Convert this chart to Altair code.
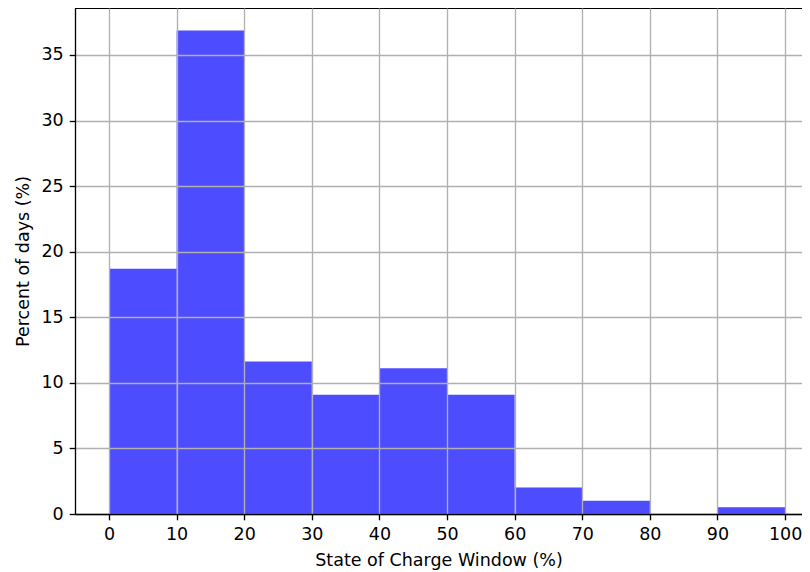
import altair as alt
import pandas as pd

bin_start = [0, 10, 20, 30, 40, 50, 60, 70, 80, 90]
bin_end = [10, 20, 30, 40, 50, 60, 70, 80, 90, 100]
percent = [18.69, 36.87, 11.62, 9.09, 11.11, 9.09, 2.02, 1.01, 0.0, 0.51]

x_ticks = [0, 10, 20, 30, 40, 50, 60, 70, 80, 90, 100]
y_ticks = [0, 5, 10, 15, 20, 25, 30, 35]

df = pd.DataFrame({"start": bin_start, "end": bin_end, "pct": percent})

font = "DejaVu Sans"
fs = 17.5
W = 727
H = 506

common_axis = dict(
    grid=True, gridColor="#b0b0b0", gridWidth=1.33,
    domain=True, domainColor="black", domainWidth=1.33,
    tickColor="black", tickWidth=1.33, tickSize=5.8,
    labelFont=font, labelFontSize=fs, labelColor="black",
    titleFont=font, titleFontSize=fs, titleColor="black",
    titleFontWeight="normal", zindex=1,
)

bars = alt.Chart(df).mark_rect(color="#4d4dff").encode(
    x=alt.X("start:Q",
            scale=alt.Scale(domain=[-5.03, 102.5], nice=False, zero=False),
            axis=alt.Axis(values=x_ticks, title="State of Charge Window (%)",
                          labelPadding=6, titlePadding=8, **common_axis)),
    x2="end:Q",
    y=alt.Y("pct:Q",
            scale=alt.Scale(domain=[0, 38.58], nice=False, zero=True),
            axis=alt.Axis(values=y_ticks, title="Percent of days (%)",
                          labelPadding=6, titlePadding=8, **common_axis)),
    y2=alt.datum(0),
)

top_spine = alt.Chart(df).mark_rule(color="black", strokeWidth=1.33).encode(
    x=alt.value(0), x2=alt.value(W), y=alt.value(0)
)

chart = alt.layer(bars, top_spine).properties(
    width=W,
    height=H,
    autosize=alt.AutoSizeParams(type="none"),
    padding={"left": 67, "top": 0, "right": 0, "bottom": 60},
).configure_view(
    strokeWidth=0
).configure(background="white")

chart.save("out.html", embed_options={"renderer": "svg", "actions": False})
